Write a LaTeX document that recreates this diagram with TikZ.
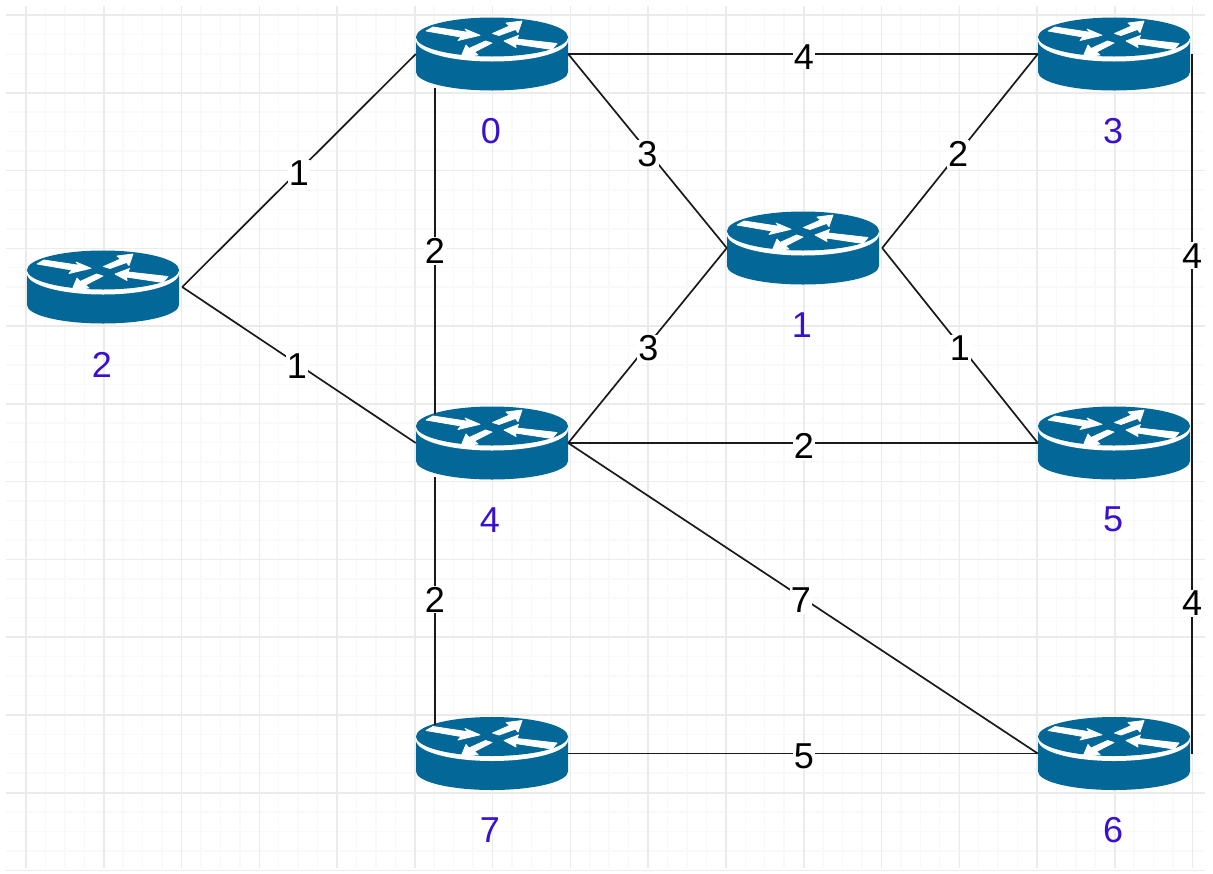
\documentclass[tikz,border=0pt]{standalone}
\usepackage{fontspec}
\setmainfont{Liberation Sans}
\definecolor{routerblue}{HTML}{036897}
\definecolor{namecol}{HTML}{3A10D0}
\definecolor{gridmajor}{HTML}{EBEBEB}
\definecolor{gridminor}{HTML}{F9F9F9}
\definecolor{linecol}{HTML}{1A1A1A}
\tikzset{
  routernode/.style={rectangle,inner sep=0pt,minimum width=152pt,minimum height=73pt,
    path picture={
      \begin{scope}[shift={(path picture bounding box.center)}]
        \fill[routerblue] (-76,-17) -- (-76,18) arc[x radius=76,y radius=18.5,start angle=180,end angle=0] -- (76,-17) -- cycle;
        \fill[white] (0,-13.5) ellipse[x radius=76,y radius=21];
        \fill[routerblue] (0,-17) ellipse[x radius=76,y radius=19.5];
        \filldraw[white,line width=.8pt,line join=round] (-66,-23) -- (-59,-27) -- (-24,-21.7) -- (-27,-25) -- (-12,-18.7) -- (-34,-13.5) -- (-31,-17) -- cycle;
        \filldraw[white,line width=.8pt,line join=round] (30,-33) -- (14,-31) -- (17.5,-28) -- (0.5,-20.5) -- (7,-18.5) -- (23.5,-24.5) -- (26,-21.5) -- cycle;
        \filldraw[white,line width=.8pt,line join=round] (12,-13) -- (26.5,-18.5) -- (25,-15) -- (65,-10.5) -- (60,-4.5) -- (23.5,-10) -- (24,-6.5) -- cycle;
        \filldraw[white,line width=.8pt,line join=round] (-31,3) -- (-14,1) -- (-17.5,-2) -- (0,-11) -- (-6.5,-13) -- (-23,-5.5) -- (-26,-9) -- cycle;
      \end{scope}
    }},
  namelabel/.style={text=namecol,font=\fontsize{36}{36}\selectfont,inner sep=0pt},
  linkline/.style={draw=linecol,line width=1.7pt},
  weight/.style={fill=white,inner sep=1pt,text=black,font=\fontsize{36}{36}\selectfont,yshift=-3pt},
  gridmaj/.style={draw=gridmajor,line width=1.5pt},
  gridmin/.style={draw=gridminor,line width=1.5pt}
}
\begin{document}
\begin{tikzpicture}[x=1pt,y=-1pt]
\useasboundingbox (0,0) rectangle (1213,873);
\fill[white] (0,0) rectangle (1213,873);
% grid
\foreach \i in {0,...,60}{
  \pgfmathsetmacro{\gx}{26+19.44*\i}
  \draw[gridmin] (\gx,6) -- (\gx,868);
}
\foreach \i in {0,...,44}{
  \pgfmathsetmacro{\gy}{15+19.44*\i}
  \draw[gridmin] (6,\gy) -- (1205,\gy);
}
\foreach \i in {0,...,15}{
  \pgfmathsetmacro{\gx}{26+77.78*\i}
  \draw[gridmaj] (\gx,6) -- (\gx,868);
}
\foreach \i in {0,...,11}{
  \pgfmathsetmacro{\gy}{15+77.78*\i}
  \draw[gridmaj] (6,\gy) -- (1205,\gy);
}
% routers
\node[routernode] (r0) at (492,54) {};
\node[routernode] (r1) at (803,248) {};
\node[routernode] (r2) at (103,287) {};
\node[routernode] (r3) at (1114,54) {};
\node[routernode] (r4) at (492,443) {};
\node[routernode] (r5) at (1114,443) {};
\node[routernode] (r6) at (1114,753.5) {};
\node[routernode] (r7) at (492,753.5) {};
% names
\node[namelabel] (n0) at (491,131) {0};
\node[namelabel] (n1) at (802,325) {1};
\node[namelabel] (n2) at (102,365) {2};
\node[namelabel] (n3) at (1113,131) {3};
\node[namelabel] (n4) at (490,520) {4};
\node[namelabel] (n5) at (1113,519) {5};
\node[namelabel] (n6) at (1113,830) {6};
\node[namelabel] (n7) at (490,830) {7};
% connectors
\draw[linkline] ([xshift=3pt]r2.east) -- node[weight]{1} (r0.west);
\draw[linkline] ([xshift=3pt]r2.east) -- node[weight,yshift=2pt,xshift=-2pt]{1} (r4.west);
\draw[linkline] ([xshift=19pt,yshift=3pt]r0.south west) -- node[weight,yshift=3pt]{2} ([xshift=19pt,yshift=-8pt]r4.north west);
\draw[linkline] ([xshift=19pt,yshift=3pt]r4.south west) -- node[weight,yshift=4pt]{2} ([xshift=19pt,yshift=-8pt]r7.north west);
\draw[linkline] (r0.east) -- node[weight,xshift=1pt]{4} (r3.west);
\draw[linkline] (r0.east) -- node[weight]{3} (r1.west);
\draw[linkline] (r4.east) -- node[weight,xshift=1pt]{3} (r1.west);
\draw[linkline] ([xshift=3pt]r1.east) -- node[weight,xshift=-2pt]{2} (r3.west);
\draw[linkline] ([xshift=3pt]r1.east) -- node[weight]{1} (r5.west);
\draw[linkline] (r4.east) -- node[weight,xshift=1pt]{2} (r5.west);
\draw[linkline] (r4.east) -- node[weight,xshift=-2pt,yshift=1pt]{7} (r6.west);
\draw[linkline] (r7.east) -- node[weight,xshift=1pt]{5} (r6.west);
\draw[linkline] ([xshift=2pt]r3.east) -- node[weight,pos=.284]{4} node[weight,pos=.781]{4} ([xshift=2pt]r6.east);
\end{tikzpicture}
\end{document}
